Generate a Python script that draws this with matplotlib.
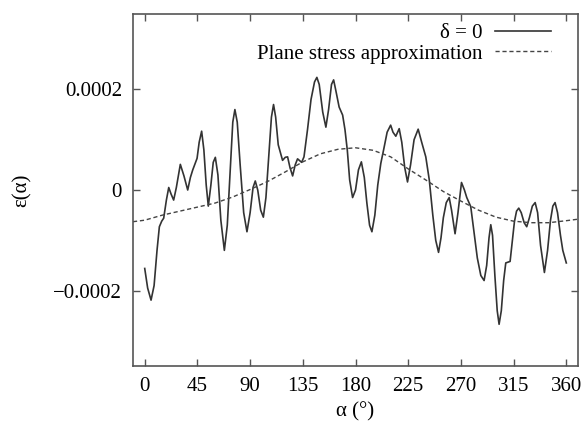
import numpy as np
import matplotlib.pyplot as plt

plt.rcParams['font.family'] = ['Liberation Serif', 'DejaVu Serif']

# strain along the contour, delta = 0 (units of 1e-4)
alpha = [0, 2.5, 5.4, 8, 10.5, 12.5, 14.5, 16.2, 18.5, 20.5, 22.5, 24.7, 27, 30.4,
         33.5, 36.7, 39, 41, 44.7, 46.5, 48.6, 50.5, 52.5, 54.3, 56.5, 58.5, 60.3,
         62.5, 65, 68, 70.5, 73, 75.2, 77, 79, 81.5, 84.5, 87.3, 90, 92.5, 94.4,
         96.5, 99, 101.3, 103.5, 106, 108.2, 110, 111.8, 114, 117.7, 120, 122, 124,
         126.3, 128.5, 130.5, 132.5, 134, 136, 139, 142, 145, 147, 149, 152, 154.7,
         157, 159.5, 161.3, 163, 166, 169, 171, 173, 175, 177.5, 180, 182.5, 185,
         187.5, 189.7, 192, 194, 196.5, 199, 201.6, 204, 207, 210, 212, 214.4,
         217.3, 219.5, 222, 224.4, 227, 230, 233.5, 236.5, 240, 243, 246, 248.5,
         250.9, 253, 255, 257.5, 260, 262, 265, 267.5, 270.5, 273, 275, 278.4, 281,
         284, 287, 289.8, 292, 294, 295.5, 297, 299, 301, 302.6, 304.5, 306.5,
         308.3, 312, 314, 315.7, 317.5, 319.4, 321.5, 324, 326.2, 328.5, 331, 333.4,
         335.5, 338, 341.3, 344, 346.5, 348.5, 350.4, 352.5, 355, 357, 360]
eps = [-1.56, -1.95, -2.19, -1.9, -1.2, -0.73, -0.62, -0.56, -0.2, 0.05, -0.08, -0.2,
       0.05, 0.51, 0.28, 0.0, 0.25, 0.4, 0.63, 0.95, 1.17, 0.8, 0.1, -0.32, 0.1, 0.55,
       0.65, 0.3, -0.6, -1.2, -0.7, 0.4, 1.35, 1.6, 1.35, 0.5, -0.45, -0.83, -0.45,
       0.05, 0.18, 0.0, -0.4, -0.54, -0.15, 0.7, 1.45, 1.7, 1.45, 0.9, 0.59, 0.65,
       0.66, 0.45, 0.28, 0.5, 0.62, 0.58, 0.55, 0.66, 1.2, 1.8, 2.15, 2.24, 2.1, 1.55,
       1.25, 1.6, 2.1, 2.19, 2.0, 1.65, 1.49, 1.2, 0.79, 0.2, -0.15, 0.0, 0.4, 0.56,
       0.25, -0.26, -0.7, -0.83, -0.5, 0.1, 0.53, 0.8, 1.15, 1.29, 1.15, 1.07, 1.22,
       0.95, 0.45, 0.16, 0.5, 1.0, 1.21, 0.95, 0.66, 0.2, -0.5, -1.0, -1.24, -0.95,
       -0.55, -0.25, -0.15, -0.4, -0.87, -0.45, 0.15, 0.0, -0.15, -0.33, -0.8, -1.35,
       -1.7, -1.8, -1.5, -0.95, -0.69, -0.9, -1.7, -2.4, -2.67, -2.4, -1.8, -1.45,
       -1.42, -1.0, -0.63, -0.42, -0.36, -0.45, -0.65, -0.73, -0.55, -0.32, -0.25,
       -0.45, -1.1, -1.64, -1.2, -0.6, -0.32, -0.25, -0.45, -0.9, -1.2, -1.45]

# plane stress approximation (units of 1e-4)
alpha_ps = [-10, 0, 15, 30, 45, 60, 75, 90, 105, 120, 135, 150, 165, 180, 195, 210,
            225, 240, 255, 270, 285, 300, 315, 330, 345, 360, 370]
eps_ps = [-0.63, -0.60, -0.50, -0.42, -0.34, -0.26, -0.14, 0.01, 0.17, 0.36, 0.56,
          0.72, 0.81, 0.84, 0.79, 0.66, 0.42, 0.20, -0.03, -0.22, -0.40, -0.54,
          -0.62, -0.65, -0.65, -0.61, -0.58]

x_ticks = [0, 45, 90, 135, 180, 225, 270, 315, 360]
y_ticks = [-0.0002, 0, 0.0002]
y_tick_labels = ['\u22120.0002', '0', '0.0002']

fs = 15

fig = plt.figure(figsize=(5.87, 4.30), dpi=100)
ax = fig.add_axes([0.2266, 0.1488, 0.7581, 0.8186])

ax.plot(alpha, np.array(eps) * 1e-4, color='#333333', lw=1.2,
        label='\u03b4 = 0')
ax.plot(alpha_ps, np.array(eps_ps) * 1e-4, color='#444444', lw=1.0,
        ls=(0, (3, 2)), label='Plane stress approximation')

ax.set_xlim(-10, 370)
ax.set_ylim(-0.00035, 0.00035)
ax.set_xticks(x_ticks)
ax.set_yticks(y_ticks)
ax.set_yticklabels(y_tick_labels)
ax.tick_params(direction='in', length=5, width=1, color='#555555',
               top=True, right=True, labelsize=fs, pad=8)
for sp in ax.spines.values():
    sp.set_color('#555555')
    sp.set_linewidth(1.2)

ax.set_xlabel('\u03b1 (°)', fontsize=fs, labelpad=4)
ax.set_ylabel('\u03b5(\u03b1)', fontsize=fs, labelpad=15)

ax.legend(loc='upper right', frameon=False, markerfirst=False, fontsize=fs,
          handlelength=2.7, handletextpad=0.6, labelspacing=0.05,
          borderaxespad=0.0, bbox_to_anchor=(0.958, 0.997))

fig.savefig('out.png', dpi=100)
